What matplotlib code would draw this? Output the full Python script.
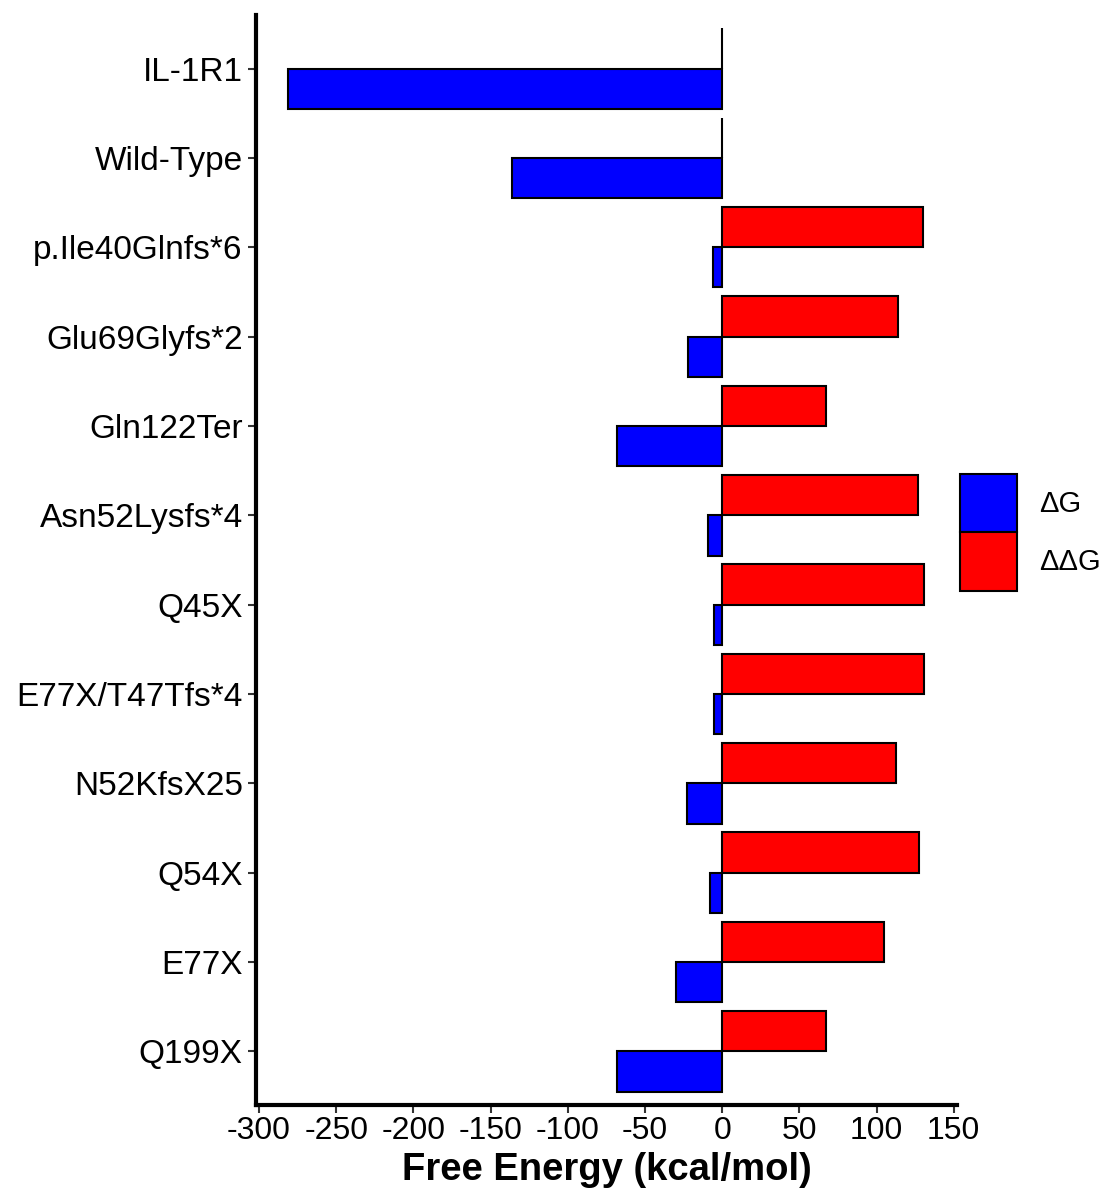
import numpy as np
import matplotlib.pyplot as plt
from matplotlib.patches import Patch

plt.rcParams['font.family'] = ['Liberation Sans', 'DejaVu Sans']
plt.rcParams['axes.unicode_minus'] = False

variants = ['IL-1R1', 'Wild-Type', 'p.Ile40Glnfs*6', 'Glu69Glyfs*2', 'Gln122Ter',
            'Asn52Lysfs*4', 'Q45X', 'E77X/T47Tfs*4', 'N52KfsX25', 'Q54X', 'E77X', 'Q199X']
dG = [-281, -136, -6, -22, -68, -9, -5, -5.5, -23, -8, -30, -68]
ddG = [0, 0, 130, 114, 67, 127, 131, 131, 112.5, 127.5, 105, 67]

fig = plt.figure(figsize=(11.1, 11.99), dpi=100)
ax = fig.add_axes([0.2306, 0.0784, 0.862 - 0.2306, 0.9875 - 0.0784])

y = np.arange(len(variants))[::-1]
h = 0.45
ax.barh(y - h / 2, dG, height=h, color='#0000ff', edgecolor='black', linewidth=1.5)
ax.barh(y + h / 2, ddG, height=h, color='#ff0000', edgecolor='black', linewidth=1.5)

ax.set_xlim(-302, 152)
ax.set_ylim(-0.6, len(variants) - 0.4)
ax.set_xticks(np.arange(-300, 151, 50))
ax.set_yticks(y)
ax.set_yticklabels(variants)
ax.tick_params(axis='y', labelsize=24, length=6, width=1.5, color='#333333')
ax.tick_params(axis='x', labelsize=23, length=6, width=1.5, color='#333333', pad=2)
ax.set_xlabel('Free Energy (kcal/mol)', fontsize=27.5, fontweight='bold', labelpad=4)

for side in ['top', 'right']:
    ax.spines[side].set_visible(False)
for side in ['left', 'bottom']:
    ax.spines[side].set_linewidth(3)

handles = [Patch(facecolor='#0000ff', edgecolor='black', linewidth=1.5, label='ΔG'),
           Patch(facecolor='#ff0000', edgecolor='black', linewidth=1.5, label='ΔΔG')]
fig.legend(handles=handles, loc='center left', bbox_to_anchor=(0.8543, 0.556),
           frameon=False, fontsize=21, handlelength=1.95, handleheight=2.7,
           labelspacing=0.0, handletextpad=0.75, borderaxespad=0)

fig.savefig('out.png', dpi=100)
